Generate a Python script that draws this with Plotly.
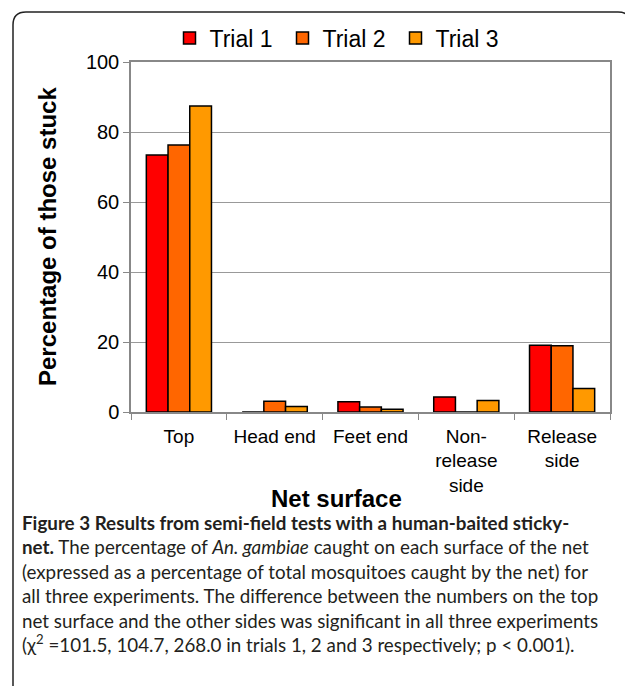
import plotly.graph_objects as go

categories = ["Top", "Head end", "Feet end", "Non-<br>release<br>side", "Release<br>side"]
trial1 = [73.4, 0, 2.9, 4.3, 19.1]
trial2 = [76.3, 3.1, 1.4, 0, 18.9]
trial3 = [87.4, 1.6, 0.8, 3.3, 6.7]
series_names = ["Trial 1", "Trial 2", "Trial 3"]
series_colors = ["#FF0000", "#FF6600", "#FF9900"]
y_ticks = [0, 20, 40, 60, 80, 100]

# page offset (browser body margin) and figure size
OFF = 8
W, H = 633 - OFF, 686 - OFF
# plot area in reference-page pixels
PL, PR, PT, PB = 131, 610, 62, 412
PW, PH = PR - PL, PB - PT

def px(x):
    return (x - PL) / PW

def py(y):
    return (PB - y) / PH

fig = go.Figure()
for name, vals, col in zip(series_names, [trial1, trial2, trial3], series_colors):
    fig.add_trace(go.Bar(x=categories, y=vals, name=name,
                         marker=dict(color=col, line=dict(color="black", width=1.5))))

arial = "Liberation Sans, Arial, sans-serif"
fig.update_layout(
    width=W, height=H,
    margin=dict(l=PL - OFF, r=W - (PR - OFF), t=PT - OFF, b=H - (PB - OFF), autoexpand=False),
    paper_bgcolor="white", plot_bgcolor="white",
    barmode="group", bargap=0.32, bargroupgap=0,
    font=dict(family=arial, color="black", size=20),
    showlegend=True,
    legend=dict(orientation="h", x=px(339), xanchor="center", y=py(38), yanchor="middle",
                font=dict(size=23, family=arial), itemwidth=30, tracegroupgap=0,
                entrywidth=68, bgcolor="rgba(0,0,0,0)"),
    xaxis=dict(showline=True, linecolor="#888", linewidth=1.5, mirror=True,
               ticks="outside", tickson="boundaries", ticklen=6, tickcolor="#888",
               ticklabelstandoff=6,
               tickfont=dict(size=19, family=arial), showgrid=False),
    yaxis=dict(range=[0, 100], tickvals=y_ticks, showline=True, linecolor="#888", linewidth=1.5,
               mirror=True, ticks="outside", ticklen=6, tickcolor="#888",
               gridcolor="#999", gridwidth=1.2, zeroline=False,
               tickfont=dict(size=20, family=arial)),
)

# y-axis title
fig.add_annotation(text="<b>Percentage of those stuck</b>", xref="paper", yref="paper",
                   x=px(47), y=py(237), textangle=-90, showarrow=False,
                   font=dict(size=24, family=arial), xanchor="center", yanchor="middle")
# x-axis title
fig.add_annotation(text="<b>Net surface</b>", xref="paper", yref="paper",
                   x=px(336), y=py(498), showarrow=False,
                   font=dict(size=24, family=arial), xanchor="center", yanchor="middle")

caption = ("<b>Figure 3 Results from semi-field tests with a human-baited sticky-</b><br>"
           "<b>net.</b> The percentage of <i>An. gambiae</i> caught on each surface of the net<br>"
           "(expressed as a percentage of total mosquitoes caught by the net) for<br>"
           "all three experiments. The difference between the numbers on the top<br>"
           "net surface and the other sides was significant in all three experiments<br>"
           "(χ<sup>2</sup> =101.5, 104.7, 268.0 in trials 1, 2 and 3 respectively; p &lt; 0.001).")
fig.add_annotation(text=caption, xref="paper", yref="paper", x=px(20), y=py(509),
                   xanchor="left", yanchor="top", align="left", showarrow=False,
                   font=dict(size=18.8, family="Lato, sans-serif", color="#231f20"))

# rounded frame (reference-page pixels)
r = 13
xl, xr, yt, yb = 13, 631, 12, 700
path = (f"M {px(xl)} {py(yb)} L {px(xl)} {py(yt + r)} "
        f"Q {px(xl)} {py(yt)} {px(xl + r)} {py(yt)} "
        f"L {px(xr - r)} {py(yt)} Q {px(xr)} {py(yt)} {px(xr)} {py(yt + r)} "
        f"L {px(xr)} {py(yb)}")
fig.add_shape(type="path", path=path, xref="paper", yref="paper",
              line=dict(color="#222", width=1.5))

fig.write_html("out.html")
